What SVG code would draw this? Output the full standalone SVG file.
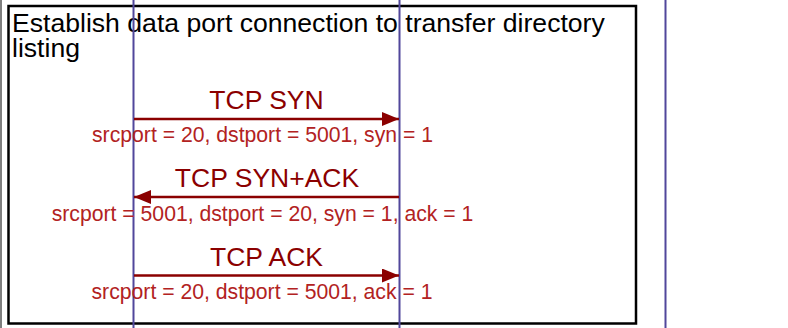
<svg xmlns="http://www.w3.org/2000/svg" width="788" height="328" viewBox="0 0 788 328">
<defs>
<style>
.life{stroke:#51479b;stroke-width:2;fill:none}
.msg{stroke:#8b0000;stroke-width:2.5;fill:none}
.lbl{font-family:"Liberation Sans",Arial,sans-serif;font-size:26.5px;fill:#8b0000;text-anchor:middle}
.par{font-family:"Liberation Sans",Arial,sans-serif;font-size:21.2px;fill:#b22222;text-anchor:middle}
.title{font-family:"Liberation Sans",Arial,sans-serif;font-size:26.6px;fill:#000}
</style>
<marker id="ah" viewBox="0 0 17 14" refX="17" refY="7" markerWidth="17" markerHeight="14" markerUnits="userSpaceOnUse" orient="auto">
<path d="M0,0 L17,7 L0,14 Z" fill="#8b0000"/>
</marker>
</defs>
<rect width="788" height="328" fill="#fff"/>
<line x1="1" y1="0" x2="1" y2="328" stroke="#555" stroke-width="1.5"/>
<g id="frame">
<rect x="8.5" y="6" width="627.5" height="317.5" fill="#fff" stroke="#000" stroke-width="2.5"/>
<text class="title" x="12" y="32">Establish data port connection to transfer directory<tspan x="12" dy="25">listing</tspan></text>
</g>
<g id="lifelines">
<line id="lifeline-client" class="life" x1="133.5" y1="0" x2="133.5" y2="328"/>
<line id="lifeline-server" class="life" x1="399.5" y1="0" x2="399.5" y2="328"/>
<line id="lifeline-third" class="life" x1="665.5" y1="0" x2="665.5" y2="328"/>
</g>
<g id="connectors">
<line class="msg" x1="134" y1="119" x2="399" y2="119" marker-end="url(#ah)"/>
<line class="msg" x1="399" y1="197" x2="134" y2="197" marker-end="url(#ah)"/>
<line class="msg" x1="134" y1="275.5" x2="399" y2="275.5" marker-end="url(#ah)"/>
</g>
<g id="msg-syn">
<text class="lbl" x="266.5" y="109">TCP SYN</text>
<text class="par" x="262.5" y="142">srcport = 20, dstport = 5001, syn = 1</text>
</g>
<g id="msg-synack">
<text class="lbl" x="267" y="187">TCP SYN+ACK</text>
<text class="par" x="262.5" y="221">srcport = 5001, dstport = 20, syn = 1, ack = 1</text>
</g>
<g id="msg-ack">
<text class="lbl" x="266.5" y="266">TCP ACK</text>
<text class="par" x="262" y="299">srcport = 20, dstport = 5001, ack = 1</text>
</g>
</svg>
